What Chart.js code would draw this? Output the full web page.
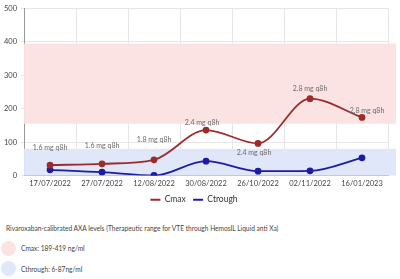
<!DOCTYPE html>
<html><head><meta charset="utf-8">
<script src="https://cdn.jsdelivr.net/npm/chart.js@4/dist/chart.umd.min.js"></script>
<style>
html,body{margin:0;padding:0;background:#fff;width:400px;height:279px;overflow:hidden;font-family:Lato,"Open Sans",sans-serif;}
#wrap{position:relative;width:400px;height:214px;}
.note{position:absolute;left:6px;top:224px;font-size:6.6px;color:#444;white-space:nowrap;}
.leg{position:absolute;left:0;font-size:6.6px;color:#444;white-space:nowrap;}
.dot{position:absolute;left:1px;width:15px;height:15px;border-radius:50%;}
.lt{position:absolute;left:21px;}
</style></head><body>
<div id="wrap"><canvas id="c" width="400" height="214"></canvas></div>
<div class="note">Rivaroxaban-calibrated AXA levels (Therapeutic range for VTE through HemosIL Liquid anti Xa)</div>
<div class="leg" style="top:241px"><div class="dot" style="background:#fbe3e3;top:0"></div><div class="lt" style="top:3px">Cmax: 189-419 ng/ml</div></div>
<div class="leg" style="top:261px"><div class="dot" style="background:#dfe7f8;top:0"></div><div class="lt" style="top:4px">Cthrough: 6-87ng/ml</div></div>
<script>
const categories = ["17/07/2022","27/07/2022","12/08/2022","30/08/2022","26/10/2022","02/11/2022","16/01/2023"];
const cmax = [31, 35, 47, 136, 96, 230, 174];
const ctrough = [17, 10, 0, 43, 13, 14, 53];
const doses = ["1.6 mg q8h","1.6 mg q8h","1.8 mg q8h","2.4 mg q8h","2.4 mg q8h","2.8 mg q8h","2.8 mg q8h"];
const cmaxRange = [155, 395];
const ctroughRange = [0, 80];

const bandsPlugin = {
  id: 'bands',
  beforeDatasetsDraw(chart, args, opts) {
    const {ctx, chartArea, scales:{y}} = chart;
    ctx.save();
    opts.bands.forEach(b => {
      const t = y.getPixelForValue(b.range[1]);
      const bt = y.getPixelForValue(b.range[0]);
      ctx.fillStyle = b.color;
      ctx.fillRect(chartArea.left, t, chartArea.right - chartArea.left + 8, bt - t);
    });
    ctx.restore();
  }
};
const doseLabels = {
  id: 'doseLabels',
  afterDatasetsDraw(chart, args, opts) {
    const {ctx} = chart;
    const meta = chart.getDatasetMeta(0);
    ctx.save();
    ctx.font = '7px Lato, sans-serif';
    ctx.fillStyle = '#6a6a6a';
    ctx.textAlign = 'center';
    ctx.textBaseline = 'bottom';
    meta.data.forEach((pt, i) => {
      const o = opts.offsets[i];
      ctx.fillText(doses[i], pt.x + o[0], pt.y - o[1]);
    });
    ctx.restore();
  }
};

new Chart(document.getElementById('c'), {
  type: 'line',
  data: {
    labels: categories,
    datasets: [
      {label:'Cmax', data:cmax, borderColor:'#9e2b2b', backgroundColor:'#9e2b2b', borderWidth:1.8, pointRadius:2.5, pointBackgroundColor:'#9e2b2b', cubicInterpolationMode:'monotone'},
      {label:'Ctrough', data:ctrough, borderColor:'#1c1ca8', backgroundColor:'#1c1ca8', borderWidth:1.8, pointRadius:2.5, pointBackgroundColor:'#1c1ca8', cubicInterpolationMode:'monotone'}
    ]
  },
  options: {
    responsive:false, animation:false,
    layout:{padding:{top:0,right:12,left:0,bottom:0}},
    plugins:{
      legend:{position:'bottom', labels:{usePointStyle:true, pointStyle:'line', pointStyleWidth:10, boxWidth:10, boxHeight:8, padding:3, color:'#333', font:{family:'Lato', size:8.5},
        generateLabels(chart){ const l = Chart.defaults.plugins.legend.labels.generateLabels(chart); l.forEach((it,i)=>{ if(i===0) it.text = it.text + '  '; }); return l; }}},
      tooltip:{enabled:false},
      bands:{bands:[{range:cmaxRange,color:'#fbe3e3'},{range:ctroughRange,color:'#dfe7f8'}]},
      doseLabels:{offsets:[[0,14],[0,15],[0,17],[-4,4],[-4,-13],[0,6],[5,3]]}
    },
    scales:{
      x:{offset:true, grid:{offset:true, color:'#e6e6e6', drawTicks:false}, border:{color:'#aaa'}, ticks:{color:'#444', font:{family:'Lato', size:7.5}, padding:4, maxRotation:0}},
      y:{min:0, max:500, ticks:{stepSize:100, color:'#444', font:{family:'Lato', size:7.5}, padding:4}, grid:{color:'#e6e6e6', drawTicks:true, tickLength:3}, border:{color:'#999'}}
    }
  },
  plugins:[bandsPlugin, doseLabels]
});
</script>
</body></html>
